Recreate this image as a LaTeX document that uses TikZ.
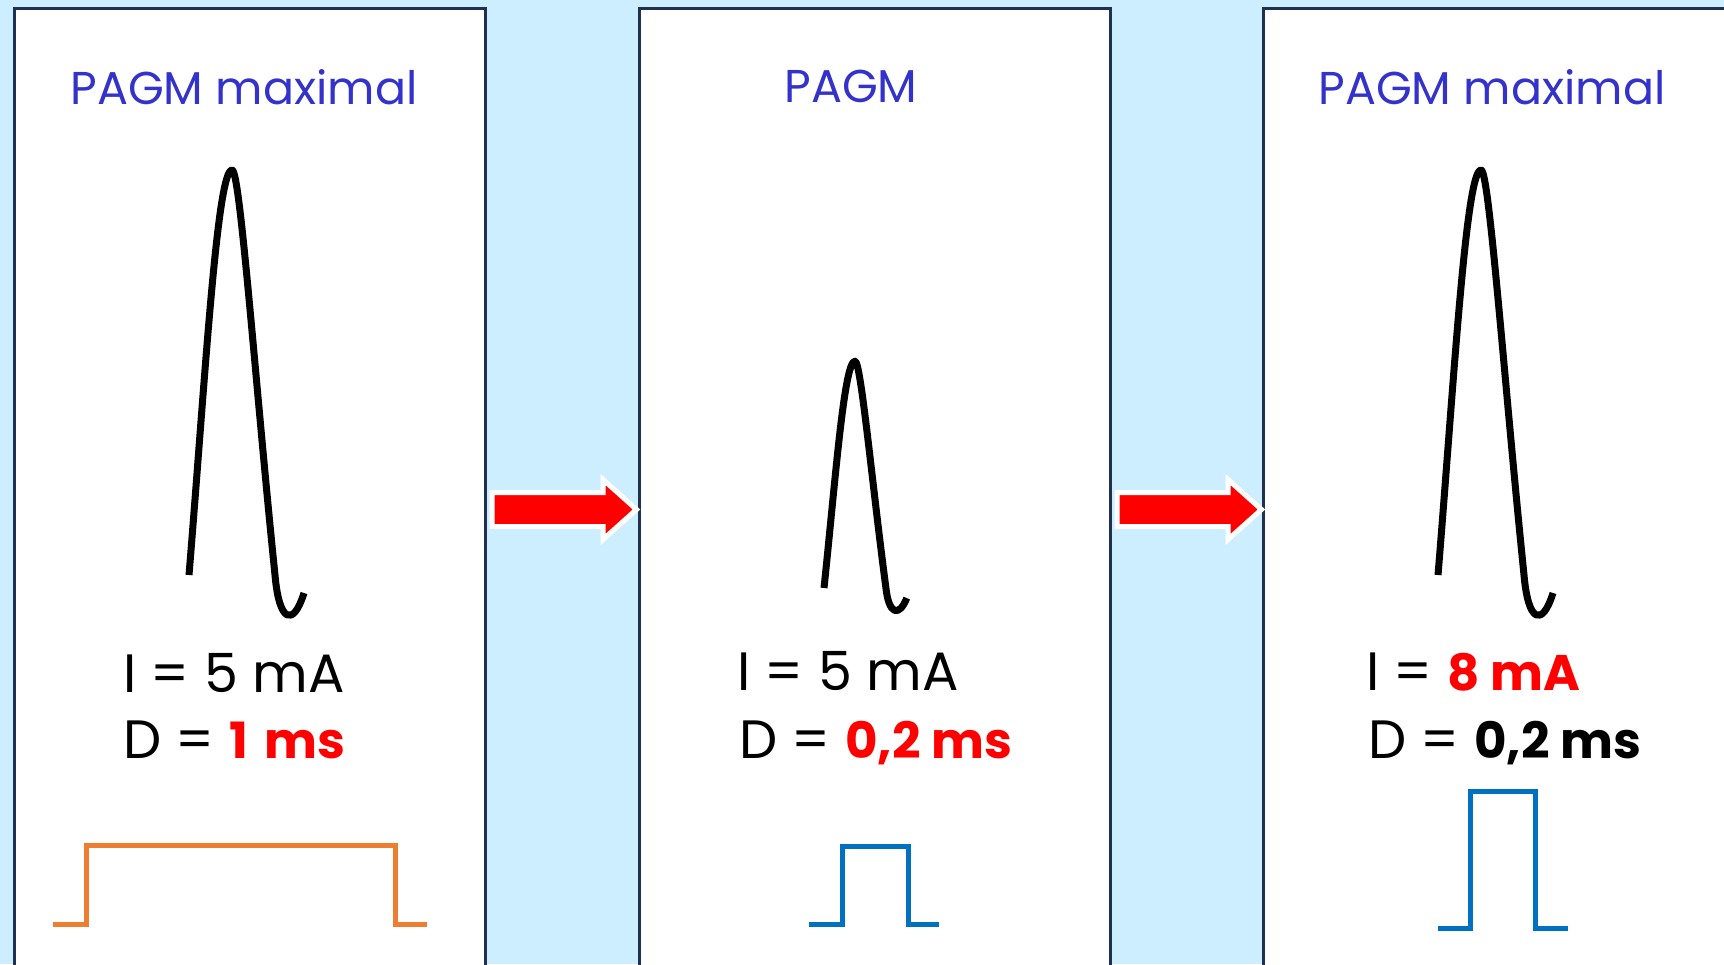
\documentclass[tikz,border=0pt]{standalone}
\usepackage{fontspec}
\setmainfont{Poppins}
\usetikzlibrary{calc}

\definecolor{skyback}{HTML}{CCEEFF}
\definecolor{navyline}{HTML}{1F3050}
\definecolor{titleblue}{HTML}{3333CC}
\definecolor{pulseorange}{HTML}{ED7D31}
\definecolor{pulseblue}{HTML}{0070C0}
\definecolor{hotred}{HTML}{FF0000}

% bold stimulus value, set slightly smaller than the labels
\newcommand{\stimval}[1]{{\fontsize{50}{60}\selectfont\bfseries #1}}

\tikzset{
  panel/.style={draw=navyline, fill=white, line width=2.5pt, rectangle,
    minimum width=471pt, minimum height=975pt, anchor=north west, inner sep=0pt},
  titletext/.style={text=titleblue, font=\fontsize{46}{56}\selectfont, anchor=base, inner sep=0pt},
  valuetext/.style={text=black, font=\fontsize{54}{64}\selectfont, anchor=base west, inner sep=0pt},
  curve/.style={line width=7pt, black, line cap=butt, line join=round},
  pulse/.style={line width=5pt, line join=miter},
  blockarrow/.style={fill=hotred, draw=white, line width=5pt, line join=miter},
  spike/.pic={
    \draw[curve] (0,0) .. controls (16,-195) and (28,-405) .. (43,-405)
      .. controls (51,-407) and (66,-195) .. (86,0)
      .. controls (90,47) and (104,53) .. (115,18);
  },
  redarrow/.pic={
    \draw[blockarrow] (0,-17) -- (111,-17) -- (111,-30) -- (144.5,0)
      -- (111,30) -- (111,17) -- (0,17) -- cycle;
  }
}

\begin{document}
\begin{tikzpicture}[x=1pt, y=-1pt]
  \useasboundingbox (0,0) rectangle (1724,964);
  \clip (0,0) rectangle (1724,964);
  \fill[skyback] (0,0) rectangle (1724,964);

  % the three panels
  \node[panel] (p1) at (13,7) {};
  \node[panel] (p2) at (638,7) {};
  \node[panel] (p3) at (1262,7) {};

  % titles
  \node[titletext] (t1) at (244,104) {PAGM maximal};
  \node[titletext] (t2) at (851,102) {PAGM};
  \node[titletext] (t3) at (1492,104) {PAGM maximal};

  % response curves
  \pic at (189,575) {spike};
  \pic[xscale=0.72, yscale=0.56] at (824,588) {spike};
  \pic at (1438,575) {spike};

  % stimulus values
  \node[valuetext] (i1) at (123,692) {I = 5 mA};
  \node[valuetext] (d1) at (123,758) {D = \textcolor{hotred}{\stimval{1\,\,ms}}};
  \node[valuetext] (i2) at (737,690) {I = 5 mA};
  \node[valuetext] (d2) at (739,758) {D = \textcolor{hotred}{\stimval{0,2 ms}}};
  \node[valuetext] (i3) at (1366,690) {I = \textcolor{hotred}{\stimval{8 mA}}};
  \node[valuetext] (d3) at (1368,758) {D = \stimval{0,2 ms}};

  % stimulus pulses
  \draw[pulse, pulseorange] (53,924) -- (86,924) -- (86,845) -- (395,845) -- (395,924) -- (427,924);
  \draw[pulse, pulseblue] (809,924) -- (842,924) -- (842,846) -- (908,846) -- (908,924) -- (939,924);
  \draw[pulse, pulseblue] (1438,928) -- (1470,928) -- (1470,791) -- (1535,791) -- (1535,928) -- (1568,928);

  % arrows between panels
  \coordinate (a1) at ($(p1.north east)+(5.5,502.5)$);
  \coordinate (a2) at ($(p2.north east)+(5.5,502.5)$);
  \pic at (a1) {redarrow};
  \pic at (a2) {redarrow};
\end{tikzpicture}
\end{document}
